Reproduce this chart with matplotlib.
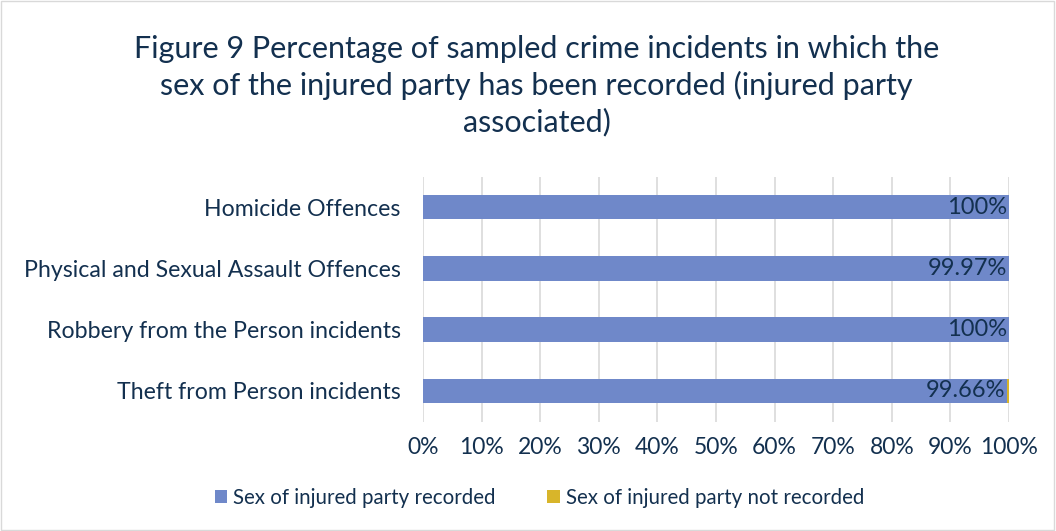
import matplotlib.pyplot as plt
from matplotlib.patches import Rectangle

categories = ["Homicide Offences", "Physical and Sexual Assault Offences",
              "Robbery from the Person incidents", "Theft from Person incidents"]
recorded = [100.0, 99.97, 100.0, 99.66]
not_recorded = [0.0, 0.03, 0.0, 0.34]
value_labels = ["100%", "99.97%", "100%", "99.66%"]

navy = "#13304f"
blue = "#6f88c9"
yellow = "#d8b52a"

plt.rcParams['font.family'] = ['Lato', 'DejaVu Sans']

fig = plt.figure(figsize=(10.56, 5.31), dpi=100)
fig.patches.append(Rectangle((0.001, 0.001), 0.997, 0.997, transform=fig.transFigure,
                             fill=False, edgecolor="#d9d9d9", linewidth=1))
ax = fig.add_axes([0.4006, 0.206, 0.5549, 0.4614])

y = list(range(len(categories)))
ax.barh(y, recorded, height=0.4, color=blue, label="Sex of injured party recorded", zorder=3)
ax.barh(y, not_recorded, left=recorded, height=0.4, color=yellow,
        label="Sex of injured party not recorded", zorder=3)

for i, (v, lab) in enumerate(zip(recorded, value_labels)):
    ax.text(v - 0.3, i, lab, ha="right", va="center", fontsize=17, color=navy, zorder=4)

ax.set_xlim(0, 100)
ax.set_ylim(3.5, -0.5)
ax.set_yticks(y)
ax.set_yticklabels(categories, fontsize=16.7, color=navy)
ax.set_xticks(range(0, 101, 10))
ax.set_xticklabels([f"{t}%" for t in range(0, 101, 10)], fontsize=16.5, color=navy)
ax.tick_params(length=0, pad=16, axis="y")
ax.tick_params(length=0, pad=11, axis="x")
ax.grid(axis="x", color="#d9d9d9", linewidth=1.2, zorder=0)
for s in ax.spines.values():
    s.set_visible(False)

fig.text(0.508, 0.838, "Figure 9 Percentage of sampled crime incidents in which the\n"
         "sex of the injured party has been recorded (injured party\nassociated)",
         ha="center", va="center", fontsize=22, color=navy, linespacing=1.33)

fig.legend(loc="center", bbox_to_anchor=(0.511, 0.063), ncol=2, frameon=False,
           fontsize=14.8, labelcolor=navy, handlelength=0.6, handleheight=0.6,
           handletextpad=0.3, columnspacing=2.5)

fig.savefig("out.png", dpi=100)
